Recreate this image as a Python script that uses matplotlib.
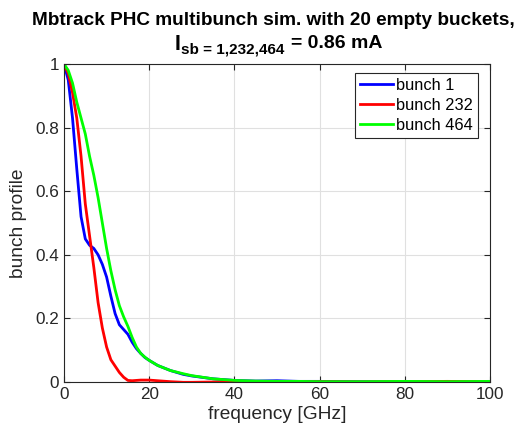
import matplotlib
matplotlib.use("Agg")
import matplotlib.pyplot as plt

plt.rcParams['font.family'] = ['Liberation Sans', 'DejaVu Sans']

freq = [0, 1, 2, 3, 4, 5, 6, 7, 8, 9, 10, 11, 12, 13, 14, 15, 16, 17, 18, 19, 20,
        22, 25, 28, 30, 35, 40, 45, 50, 55, 60, 70, 80, 90, 100]

bunch1 = [1.0, 0.95, 0.83, 0.67, 0.52, 0.45, 0.43, 0.42, 0.40, 0.37, 0.33, 0.27, 0.215,
          0.18, 0.165, 0.15, 0.125, 0.105, 0.09, 0.077, 0.068,
          0.052, 0.036, 0.024, 0.019, 0.01, 0.005, 0.003, 0.004, 0.002, 0.002, 0.001, 0.001, 0.0, 0.001]

bunch232 = [1.0, 0.97, 0.91, 0.83, 0.71, 0.56, 0.46, 0.36, 0.25, 0.17, 0.11, 0.07, 0.05,
            0.03, 0.015, 0.005, 0.004, 0.005, 0.006, 0.006, 0.006,
            0.004, 0.001, -0.001, -0.001, 0.0, 0.001, 0.0, -0.001, 0.0, 0.001, 0.0, 0.001, 0.002, 0.001]

bunch464 = [1.0, 0.98, 0.94, 0.88, 0.83, 0.78, 0.71, 0.65, 0.58, 0.50, 0.42, 0.35, 0.29,
            0.24, 0.205, 0.175, 0.14, 0.11, 0.09, 0.078, 0.068,
            0.052, 0.036, 0.026, 0.02, 0.01, 0.005, 0.003, 0.002, 0.002, 0.001, 0.001, 0.002, 0.001, 0.002]

labels = ['bunch 1', 'bunch 232', 'bunch 464']
colors = ['#0000ff', '#ff0000', '#00ff00']

W, H = 525, 434
fig = plt.figure(figsize=(W / 100, H / 100), dpi=100)
ax = fig.add_axes([64 / W, 1 - 382 / H, 426 / W, 318 / H])

for y, lab, c in zip([bunch1, bunch232, bunch464], labels, colors):
    ax.plot(freq, y, color=c, lw=2, label=lab)

ax.set_xlim(0, 100)
ax.set_ylim(0, 1)
ax.set_xticks([0, 20, 40, 60, 80, 100])
ax.set_yticks([0, 0.2, 0.4, 0.6, 0.8, 1])
ax.set_yticklabels(['0', '0.2', '0.4', '0.6', '0.8', '1'])
ax.grid(True, color='#e0e0e0', lw=0.8)
ax.set_axisbelow(True)
ax.tick_params(direction='in', top=True, right=True, labelsize=12.3, colors='#262626', length=4)
for s in ax.spines.values():
    s.set_color('#262626')
    s.set_linewidth(0.8)

ax.set_xlabel('frequency [GHz]', fontsize=13.8, color='#262626', labelpad=3)
ax.set_ylabel('bunch profile', fontsize=13.8, color='#262626', labelpad=6)

def fx(px):
    return px / W

def fy(py):
    return 1 - py / H

fig.text(fx(273.5), fy(25), 'Mbtrack PHC multibunch sim. with 20 empty buckets,',
         fontsize=13.7, fontweight='bold', ha='center', va='baseline', color='black')
fig.text(fx(175), fy(50), 'I', fontsize=15.5, fontweight='bold', ha='left', va='baseline')
fig.text(fx(181), fy(54), 'sb = 1,232,464', fontsize=11, fontweight='bold', ha='left', va='baseline')
fig.text(fx(291), fy(47.7), '= 0.86 mA', fontsize=14, fontweight='bold', ha='left', va='baseline')

leg = ax.legend(loc='upper right', bbox_to_anchor=((478 - 64) / 426, (382 - 73) / 318),
                fontsize=11.8, fancybox=False, framealpha=1,
                edgecolor='#262626', borderaxespad=0, handlelength=2.0,
                labelspacing=0.3, borderpad=0.3, handletextpad=0.2)
leg.get_frame().set_linewidth(0.8)

fig.savefig('out.png', dpi=100)
